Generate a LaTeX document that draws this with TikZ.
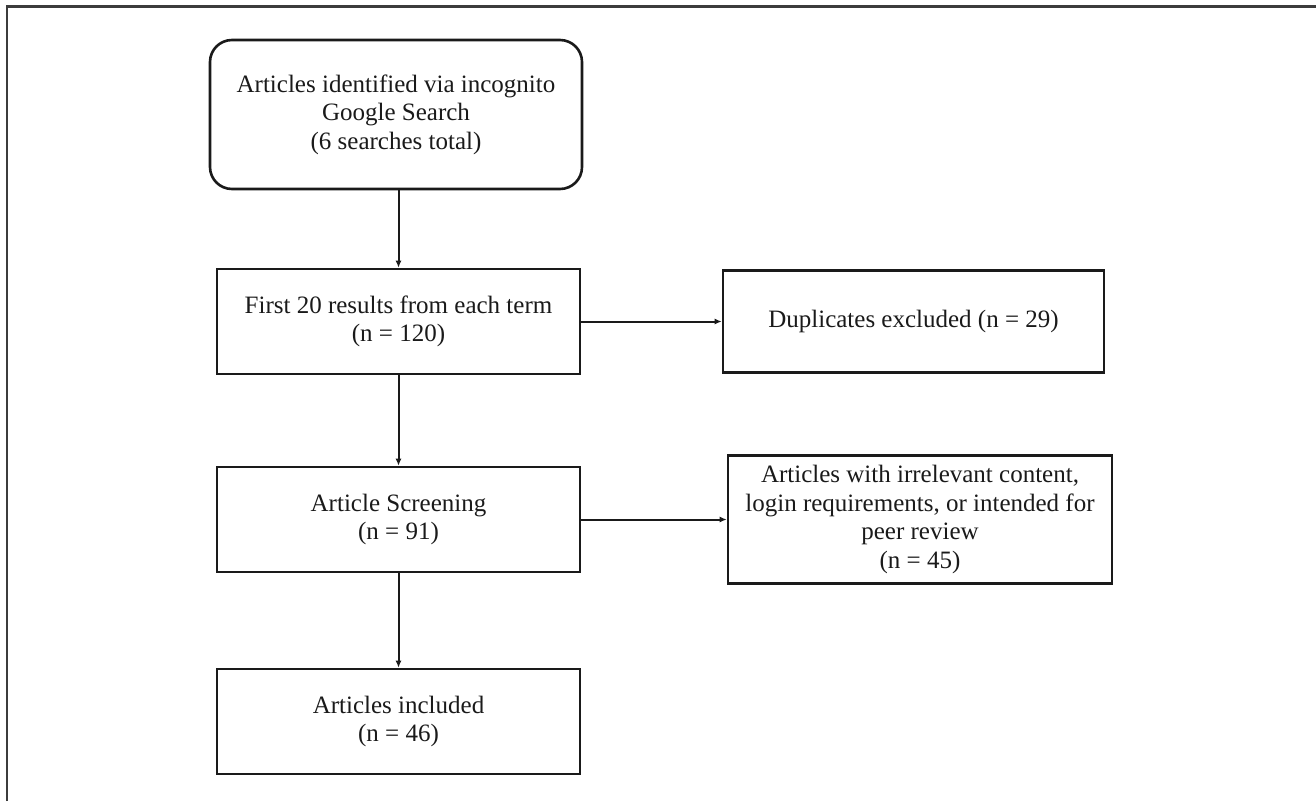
\documentclass[tikz,border=0pt]{standalone}
\usepackage{fontspec}
\setmainfont{Liberation Serif}
\usetikzlibrary{arrows.meta}
\definecolor{ink}{HTML}{1A1A1A}
\tikzset{
  box/.style={draw=ink, line width=2.6pt, fill=white, align=center, inner sep=2pt,
    font=\fontsize{25}{28.5}\selectfont, text=ink},
  rbox/.style={box, rounded corners=22pt},
  arr/.style={draw=ink, line width=2pt, -{Latex[length=7pt,width=6pt]}},
  frame/.style={draw=ink!85, line width=2.4pt}
}
\begin{document}
\begin{tikzpicture}[x=1pt,y=-1pt]
\useasboundingbox (0,0) rectangle (1316,801);
\fill[white] (0,0) rectangle (1316,801);
\draw[frame] (7,801) -- (7,6.5) -- (1316,6.5);

\node[rbox, minimum width=372pt, minimum height=149pt] (b1) at (396,114.5)
  {Articles identified via incognito\\Google Search\\(6 searches total)};
\node[box, minimum width=363pt, minimum height=105pt] (b2) at (398.5,321.5)
  {First 20 results from each term\\(n = 120)};
\node[box, minimum width=381pt, minimum height=102pt] (b3) at (913.5,321.5)
  {Duplicates excluded (n = 29)};
\node[box, minimum width=363pt, minimum height=105pt] (b4) at (398.5,519.5)
  {Article Screening\\(n = 91)};
\node[box, minimum width=384pt, minimum height=128pt] (b5) at (920,519.5)
  {Articles with irrelevant content,\\login requirements, or intended for\\peer review\\(n = 45)};
\node[box, minimum width=363pt, minimum height=105pt] (b6) at (398.5,721.5)
  {Articles included\\(n = 46)};

\draw[arr] (b2.north |- b1.south) -- (b2.north);
\draw[arr] (b2.east) -- (b3.west);
\draw[arr] (b2.south) -- (b4.north);
\draw[arr] (b4.east) -- (b5.west);
\draw[arr] (b4.south) -- (b6.north);
\end{tikzpicture}
\end{document}
